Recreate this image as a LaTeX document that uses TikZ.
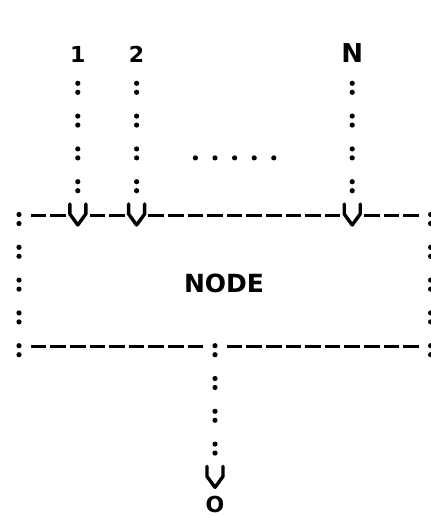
\documentclass[tikz,border=0pt]{standalone}
\usepackage{fontspec}
\setmainfont{DejaVu Sans}
\usetikzlibrary{calc}
\tikzset{
  plotfont/.style={inner sep=0pt, anchor=base, font=\bfseries\fontsize{#1}{#1}\selectfont},
  colons/.style={line width=5.2pt, line cap=round, dash pattern=on 0pt off 9pt on 0pt off 23.8pt},
  periods/.style={line width=5.2pt, line cap=round, dash pattern=on 0pt off 19.6pt},
  dashseg/.style={line width=3.6pt},
  glyph/.style={line width=3.4pt, line cap=round, line join=round},
  vee/.pic={\draw[glyph] (-8,0) -- (-8,10) -- (0,21) -- (8,10) -- (8,0);},
}
\begin{document}
\begin{tikzpicture}[x=1pt, y=-1pt]
\useasboundingbox (0,0) rectangle (430,518);

% input labels
\node[plotfont=22] (l1) at (77.8,63) {1};
\node[plotfont=22] (l2) at (136.6,63) {2};
\node[plotfont=26] (lN) at (352.2,63) {N};

% entry points on the top edge of the box
\coordinate (t1) at (77.8,204);
\coordinate (t2) at (136.6,204);
\coordinate (tN) at (352.2,204);

% the box and its label
\node[plotfont=25] (box) at (224,292) {NODE};
\foreach \c in {1,2,4,5,7,8,9,10,11,12,13,14,15,16,18,19,20}
  \draw[dashseg] ({19+19.6*\c-7.75},215.5) -- ++(15.5,0);
\foreach \c in {1,2,3,4,5,6,7,8,9,11,12,13,14,15,16,17,18,19,20}
  \draw[dashseg] ({19+19.6*\c-7.75},346.5) -- ++(15.5,0);
\draw[colons] (19,214.5) -- (19,355);
\draw[colons] (430.6,214.5) -- (430.6,355);
\pic at (t1) {vee};
\pic at (t2) {vee};
\pic at (tN) {vee};

% ellipsis between the inputs
\draw[periods] (195.4,157.9) -- (274.2,157.9);

% input connectors
\draw[colons] ($(l1.base)+(0,20.3)$) -- (t1);
\draw[colons] ($(l2.base)+(0,20.3)$) -- (t2);
\draw[colons] ($(lN.base)+(0,20.3)$) -- (tN);

% output connector
\coordinate (bm) at (215,345.7);
\coordinate (tO) at (215,466.4);
\node[plotfont=22] (out) at (215,512.5) {O};
\draw[colons] (bm) -- (tO);
\pic at (tO) {vee};
\end{tikzpicture}
\end{document}
